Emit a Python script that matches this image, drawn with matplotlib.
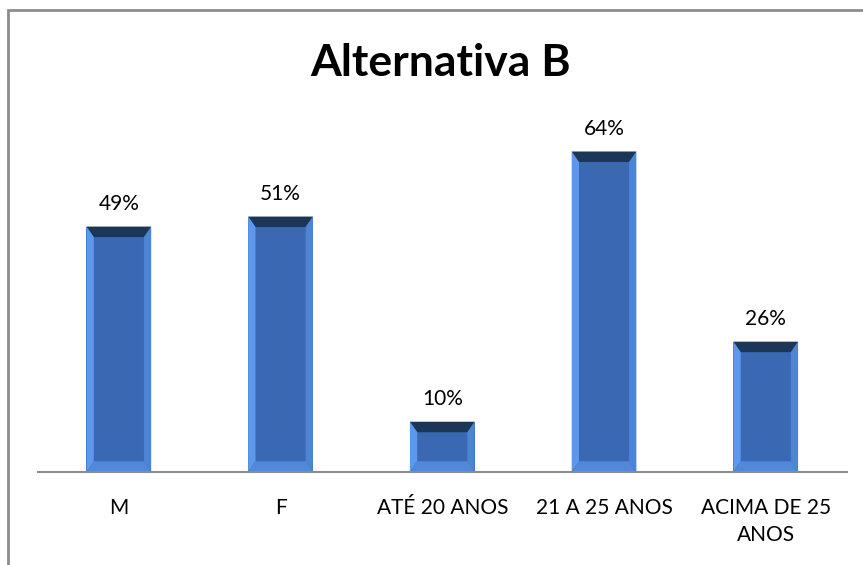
import matplotlib.pyplot as plt
from matplotlib.patches import Polygon, Rectangle

# Chart data
categorias = ['M', 'F', 'ATÉ 20 ANOS', '21 A 25 ANOS', 'ACIMA DE 25\nANOS']
valores = [49, 51, 10, 64, 26]
rotulos = ['49%', '51%', '10%', '64%', '26%']

plt.rcParams['font.family'] = ['Lato', 'DejaVu Sans']

fig = plt.figure(figsize=(8.63, 5.65), dpi=100)
ax = fig.add_axes([0.044, 0.165, 0.937, 0.62])

x = list(range(len(categorias)))
largura = 0.40
barras = ax.bar(x, valores, width=largura, color='#3a68b2', zorder=2)

ax.set_xlim(-0.5, len(categorias) - 0.5)
ax.set_ylim(0, 70)

# bevel effect drawn from each bar's own geometry
bx = 0.045  # side bevel width (data units)
by = 2.1    # top/bottom bevel height (data units)
for b in barras:
    x0, x1 = b.get_x(), b.get_x() + b.get_width()
    h = b.get_height()
    bb = min(by, h / 4)
    # top (dark)
    ax.add_patch(Polygon([(x0, h), (x1, h), (x1 - bx, h - bb), (x0 + bx, h - bb)],
                         closed=True, color='#1b3656', zorder=3, lw=0))
    # left (light)
    ax.add_patch(Polygon([(x0, 0), (x0, h), (x0 + bx, h - bb), (x0 + bx, bb)],
                         closed=True, color='#5c98ee', zorder=3, lw=0))
    # right (mid light)
    ax.add_patch(Polygon([(x1, 0), (x1, h), (x1 - bx, h - bb), (x1 - bx, bb)],
                         closed=True, color='#4c84d6', zorder=3, lw=0))
    # bottom (lighter)
    ax.add_patch(Polygon([(x0, 0), (x1, 0), (x1 - bx, bb), (x0 + bx, bb)],
                         closed=True, color='#4f88dc', zorder=3, lw=0))

for xi, v, r in zip(x, valores, rotulos):
    ax.text(xi, v + 2.5, r, ha='center', va='bottom', fontsize=15, color='black')

ax.set_xticks(x)
ax.set_xticklabels(categorias, fontsize=15, linespacing=1.4, va='top')
ax.tick_params(axis='x', length=0, pad=19)
ax.set_yticks([])
for s in ['top', 'right', 'left']:
    ax.spines[s].set_visible(False)
ax.spines['bottom'].set_color('#8c8c8c')
ax.spines['bottom'].set_linewidth(1.5)
ax.spines['bottom'].set_zorder(4)

fig.text(0.511, 0.888, 'Alternativa B', ha='center', va='center',
         fontsize=32, fontweight='bold')

# outer chart border
fig.add_artist(Rectangle((8 / 863, -0.1), 1.0, 1 - 10 / 565 + 0.1,
                         transform=fig.transFigure, fill=False,
                         edgecolor='#8c8c8c', lw=2))

plt.savefig('out.png', dpi=100)
